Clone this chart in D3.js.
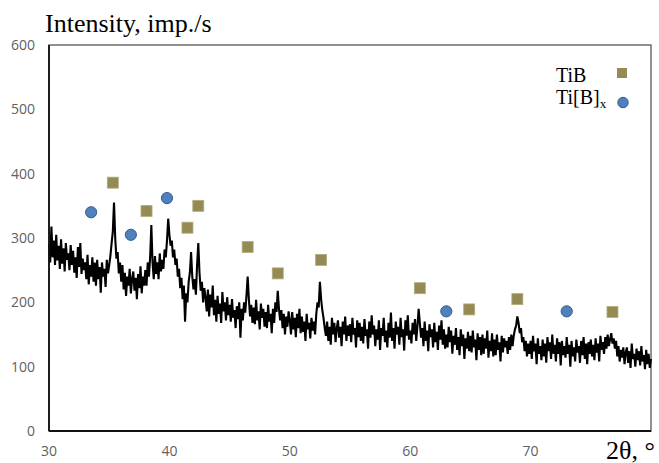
<!DOCTYPE html>
<head>
  <meta charset="utf-8">
  <title>XRD pattern</title>
  <style>
    body {
      margin: 0;
      padding: 0;
      background-color: #fff;
    }
    .tick-label {
      font-family: 'Open Sans', sans-serif;
      font-size: 14px;
      fill: #5f5f5f;
    }
    .serif {
      font-family: 'Liberation Serif', 'Times New Roman', serif;
      fill: #000;
    }
  </style>
</head>
<body>
  <div id="vis"></div>
  <script src="https://cdn.jsdelivr.net/npm/d3@7"></script>
  <script>
    // scan: 2theta from 30 to 80 in 0.1 deg steps
    var scanStart = 30,
        scanStep = 0.1;

    var intensity = [
      290, 262, 318, 270, 296, 258, 305, 265, 288, 252,
      298, 260, 284, 248, 292, 266, 276, 250, 289, 258,
      280, 246, 270, 238, 286, 255, 292, 244, 268, 250,
      262, 236, 274, 228, 258, 240, 270, 232, 262, 226,
      266, 236, 255, 215, 262, 240, 252, 224, 266, 245,
      258, 272, 292, 310, 355, 300, 268, 278, 245, 262,
      232, 258, 220, 246, 210, 240, 226, 252, 214, 236,
      248, 218, 238, 205, 244, 222, 256, 214, 240, 226,
      250, 226, 262, 240, 270, 320, 262, 236, 272, 244,
      262, 236, 276, 248, 266, 252, 282, 270, 296, 330,
      305, 288, 296, 270, 282, 258, 268, 240, 252, 222,
      238, 205, 226, 170, 214, 200, 232, 246, 278, 240,
      220, 236, 212, 258, 292, 246, 218, 232, 200, 222,
      208, 186, 220, 178, 212, 192, 226, 180, 204, 170,
      210, 182, 198, 168, 216, 186, 200, 172, 208, 180,
      196, 170, 205, 176, 188, 160, 194, 174, 200, 145,
      190, 172, 200, 184, 210, 240, 205, 178, 196, 168,
      192, 166, 204, 172, 186, 158, 198, 176, 190, 162,
      185, 160, 196, 170, 182, 152, 190, 168, 200, 185,
      218, 190, 172, 188, 160, 182, 150, 178, 162, 186,
      172, 150, 185, 158, 176, 146, 182, 160, 190, 152,
      178, 154, 170, 140, 182, 158, 168, 144, 176, 156,
      170, 150, 182, 200, 192, 232, 205, 188, 176, 160,
      148, 170, 140, 162, 134, 176, 150, 168, 138, 160,
      172, 145, 162, 132, 170, 150, 178, 140, 164, 148,
      166, 138, 176, 150, 160, 130, 172, 146, 168, 140,
      162, 136, 174, 148, 158, 128, 170, 145, 180, 150,
      164, 132, 158, 142, 172, 126, 160, 148, 176, 138,
      156, 130, 168, 145, 184, 140, 160, 128, 170, 150,
      162, 134, 176, 146, 158, 125, 172, 148, 180, 142,
      156, 136, 168, 150, 174, 140, 162, 190, 168, 145,
      160, 132, 170, 140, 156, 124, 166, 146, 158, 130,
      168, 138, 154, 126, 164, 142, 172, 134, 158, 128,
      150, 130, 162, 138, 156, 120, 148, 134, 160, 126,
      146, 118, 158, 132, 150, 112, 144, 128, 154, 124,
      148, 122, 156, 130, 142, 110, 152, 126, 146, 118,
      150, 120, 144, 128, 156, 114, 140, 124, 152, 116,
      142, 118, 150, 126, 138, 108, 148, 122, 144, 130,
      140, 120, 146, 126, 150, 132, 148, 158, 164, 178,
      168, 152, 160, 138, 146, 124, 140, 116, 136, 120,
      140, 112, 148, 124, 136, 104, 144, 120, 132, 110,
      142, 116, 136, 106, 146, 124, 138, 112, 150, 120,
      134, 108, 144, 120, 138, 102, 140, 118, 132, 114,
      146, 120, 134, 100, 140, 116, 130, 108, 142, 122,
      132, 106, 140, 118, 146, 112, 136, 104, 138, 120,
      142, 116, 134, 110, 144, 122, 136, 108, 148, 126,
      138, 120, 146, 128, 150, 132, 142, 152, 136, 144,
      128, 140, 116, 132, 108, 126, 114, 130, 104, 122,
      130, 106, 124, 98, 136, 112, 120, 100, 128, 110,
      124, 102, 132, 108, 118, 96, 126, 104, 120, 98,
      112
    ];

    // phase markers
    var tibAngle = [35.3, 38.1, 41.5, 42.4, 46.5, 49.0, 52.6, 60.8, 64.9, 68.9, 76.8],
        tibLevel = [386, 342, 316, 350, 286, 245, 266, 222, 189, 205, 185];
    var tibxAngle = [33.5, 36.8, 39.8, 63.0, 73.0],
        tibxLevel = [340, 305, 362, 186, 186];

    var xTicks = [30, 40, 50, 60, 70],
        yTicks = [0, 100, 200, 300, 400, 500, 600];

    var visWidth = 659, visHeight = 463,
        plotLeft = 49, plotRight = 651, plotTop = 45, plotBottom = 431;

    var svg = d3.select("#vis").append("svg")
      .attr("width", visWidth)
      .attr("height", visHeight);

    var x = d3.scaleLinear().domain([30, 80]).range([plotLeft, plotRight]);
    var y = d3.scaleLinear().domain([0, 600]).range([plotBottom, plotTop]);

    // frame
    svg.append("rect")
      .attr("x", plotLeft).attr("y", plotTop)
      .attr("width", plotRight - plotLeft).attr("height", plotBottom - plotTop)
      .attr("fill", "none")
      .attr("stroke", "#6e6e6e")
      .attr("stroke-width", 1.5);

    // y labels
    svg.selectAll(".ylab")
      .data(yTicks)
      .enter().append("text")
        .attr("class", "tick-label")
        .attr("x", 35)
        .attr("y", function(d) { return y(d); })
        .attr("dy", "0.36em")
        .attr("text-anchor", "end")
        .text(function(d) { return d; });

    // x labels
    svg.selectAll(".xlab")
      .data(xTicks)
      .enter().append("text")
        .attr("class", "tick-label")
        .attr("x", function(d) { return x(d); })
        .attr("y", 456)
        .attr("text-anchor", "middle")
        .text(function(d) { return d; });

    // pattern
    var line = d3.line()
      .x(function(d, i) { return x(scanStart + i * scanStep); })
      .y(function(d) { return y(d); });

    svg.append("path")
      .datum(intensity)
      .attr("d", line)
      .attr("fill", "none")
      .attr("stroke", "#000")
      .attr("stroke-width", 2.1)
      .attr("stroke-linejoin", "miter");

    // left and bottom axis lines
    svg.append("line")
      .attr("x1", plotLeft).attr("x2", plotLeft)
      .attr("y1", plotTop).attr("y2", plotBottom)
      .attr("stroke", "#111").attr("stroke-width", 1.8);
    svg.append("line")
      .attr("x1", plotLeft).attr("x2", plotRight)
      .attr("y1", plotBottom).attr("y2", plotBottom)
      .attr("stroke", "#111").attr("stroke-width", 1.8);

    // TiB squares
    var sq = 11;
    svg.selectAll(".tib")
      .data(tibAngle)
      .enter().append("rect")
        .attr("x", function(d) { return x(d) - sq / 2; })
        .attr("y", function(d, i) { return y(tibLevel[i]) - sq / 2; })
        .attr("width", sq).attr("height", sq)
        .attr("fill", "#948a54")
        .attr("stroke", "#b3ab7d")
        .attr("stroke-width", 0.8);

    // Ti[B]x circles
    svg.selectAll(".tibx")
      .data(tibxAngle)
      .enter().append("circle")
        .attr("cx", function(d) { return x(d); })
        .attr("cy", function(d, i) { return y(tibxLevel[i]); })
        .attr("r", 5.6)
        .attr("fill", "#4f81bd")
        .attr("stroke", "#2f5d8f")
        .attr("stroke-width", 1);

    // legend
    svg.append("text")
      .attr("class", "serif")
      .attr("x", 556).attr("y", 82)
      .style("font-size", "20px")
      .text("TiB");
    svg.append("rect")
      .attr("x", 617).attr("y", 68)
      .attr("width", 10).attr("height", 10)
      .attr("fill", "#948a54");

    var lt = svg.append("text")
      .attr("class", "serif")
      .attr("x", 556).attr("y", 104)
      .style("font-size", "20px");
    lt.append("tspan").text("Ti[B]");
    lt.append("tspan").attr("dy", 4).style("font-size", "13px").text("x");
    svg.append("circle")
      .attr("cx", 623).attr("cy", 102.5)
      .attr("r", 5.2)
      .attr("fill", "#4f81bd")
      .attr("stroke", "#2f5d8f")
      .attr("stroke-width", 1);

    // axis titles
    svg.append("text")
      .attr("class", "serif")
      .attr("x", 45).attr("y", 32)
      .style("font-size", "26px")
      .text("Intensity, imp./s");

    svg.append("text")
      .attr("class", "serif")
      .attr("x", 606).attr("y", 459)
      .style("font-size", "26px")
      .text("2θ, °");
  </script>
</body>
